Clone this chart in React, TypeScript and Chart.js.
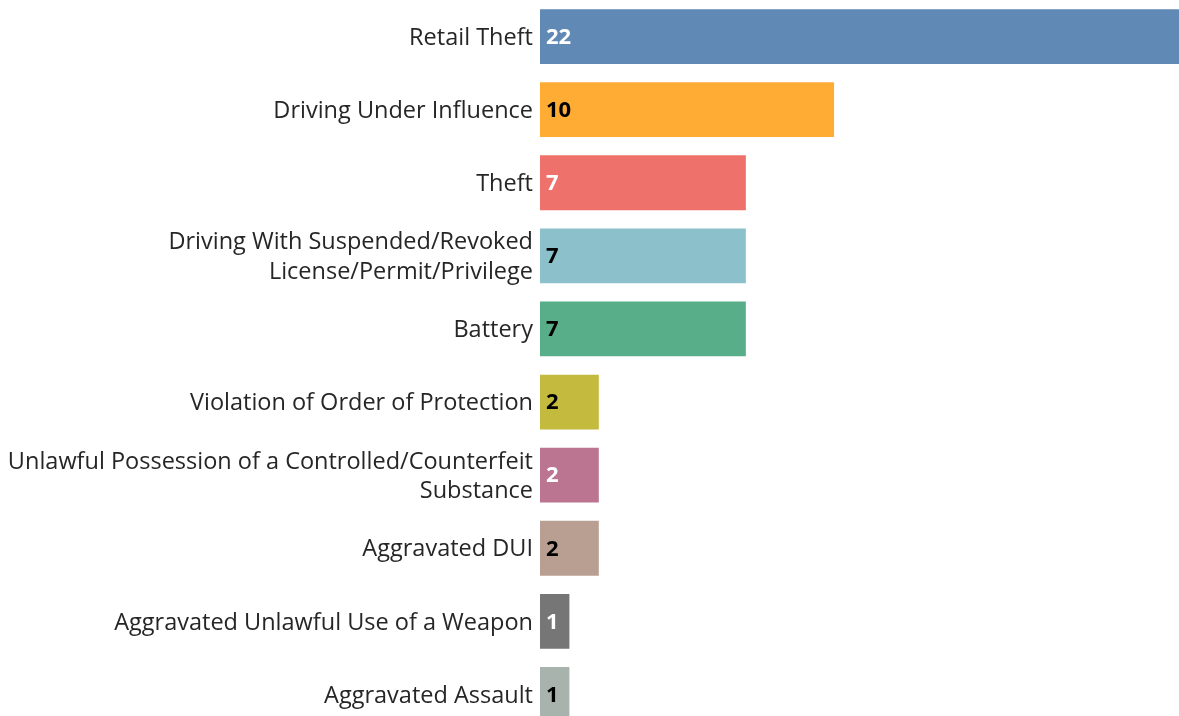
import React, { useEffect, useRef } from "react";
import { Chart, registerables } from "chart.js";

Chart.register(...registerables);

const categories: string[][] = [
  ["Retail Theft"],
  ["Driving Under Influence"],
  ["Theft"],
  ["Driving With Suspended/Revoked", "License/Permit/Privilege"],
  ["Battery"],
  ["Violation of Order of Protection"],
  ["Unlawful Possession of a Controlled/Counterfeit", "Substance"],
  ["Aggravated DUI"],
  ["Aggravated Unlawful Use of a Weapon"],
  ["Aggravated Assault"],
];

const counts: number[] = [22, 10, 7, 7, 7, 2, 2, 2, 1, 1];

const barColors: string[] = [
  "#6189b5",
  "#feac34",
  "#ef716b",
  "#8cc1cb",
  "#57ae88",
  "#c4ba3e",
  "#bb7590",
  "#b99e92",
  "#767676",
  "#a9b3ae",
];

const labelColors: string[] = [
  "#ffffff",
  "#000000",
  "#ffffff",
  "#000000",
  "#000000",
  "#000000",
  "#ffffff",
  "#000000",
  "#ffffff",
  "#000000",
];

const FONT = "'Open Sans', 'Noto Sans', sans-serif";

const labelsPlugin = {
  id: "customLabels",
  afterDatasetsDraw(chart: any) {
    const ctx = chart.ctx;
    const meta = chart.getDatasetMeta(0);
    const yScale = chart.scales.y;
    ctx.save();
    // category labels
    ctx.font = `23.5px ${FONT}`;
    ctx.fillStyle = "#262626";
    ctx.textAlign = "right";
    ctx.textBaseline = "middle";
    const lineH = 29.5;
    categories.forEach((lines, i) => {
      const cy = yScale.getPixelForTick(i);
      const startY = cy - ((lines.length - 1) * lineH) / 2;
      lines.forEach((ln, j) => {
        ctx.fillText(ln, yScale.right - 7, startY + j * lineH + 1.5);
      });
    });
    // value labels
    ctx.font = `bold 22px ${FONT}`;
    ctx.textAlign = "left";
    meta.data.forEach((bar: any, i: number) => {
      ctx.fillStyle = labelColors[i];
      ctx.fillText(String(counts[i]), bar.base + 6, bar.y + 1);
    });
    ctx.restore();
  },
};

export default function App() {
  const ref = useRef<HTMLCanvasElement>(null);

  useEffect(() => {
    document.body.style.margin = "0";
    const chart = new Chart(ref.current!, {
      type: "bar",
      data: {
        labels: categories.map((l) => l.join(" ")),
        datasets: [
          {
            data: counts,
            backgroundColor: barColors,
            barPercentage: 0.75,
            categoryPercentage: 1,
            borderWidth: 0,
          },
        ],
      },
      options: {
        indexAxis: "y",
        animation: false,
        responsive: false,
        maintainAspectRatio: false,
        layout: { padding: 0 },
        plugins: {
          legend: { display: false },
          tooltip: { enabled: false },
        },
        scales: {
          x: {
            display: false,
            min: 0,
            max: 21.73,
          },
          y: {
            grid: { display: false },
            border: { display: false },
            ticks: { display: false },
            afterFit(scale: any) {
              scale.width = 540;
            },
          },
        },
      },
      plugins: [labelsPlugin],
    });
    return () => chart.destroy();
  }, []);

  return (
    <div style={{ width: 1179, height: 716, overflow: "hidden", background: "#fff" }}>
      <canvas ref={ref} width={1179} height={731} style={{ display: "block" }} />
    </div>
  );
}
